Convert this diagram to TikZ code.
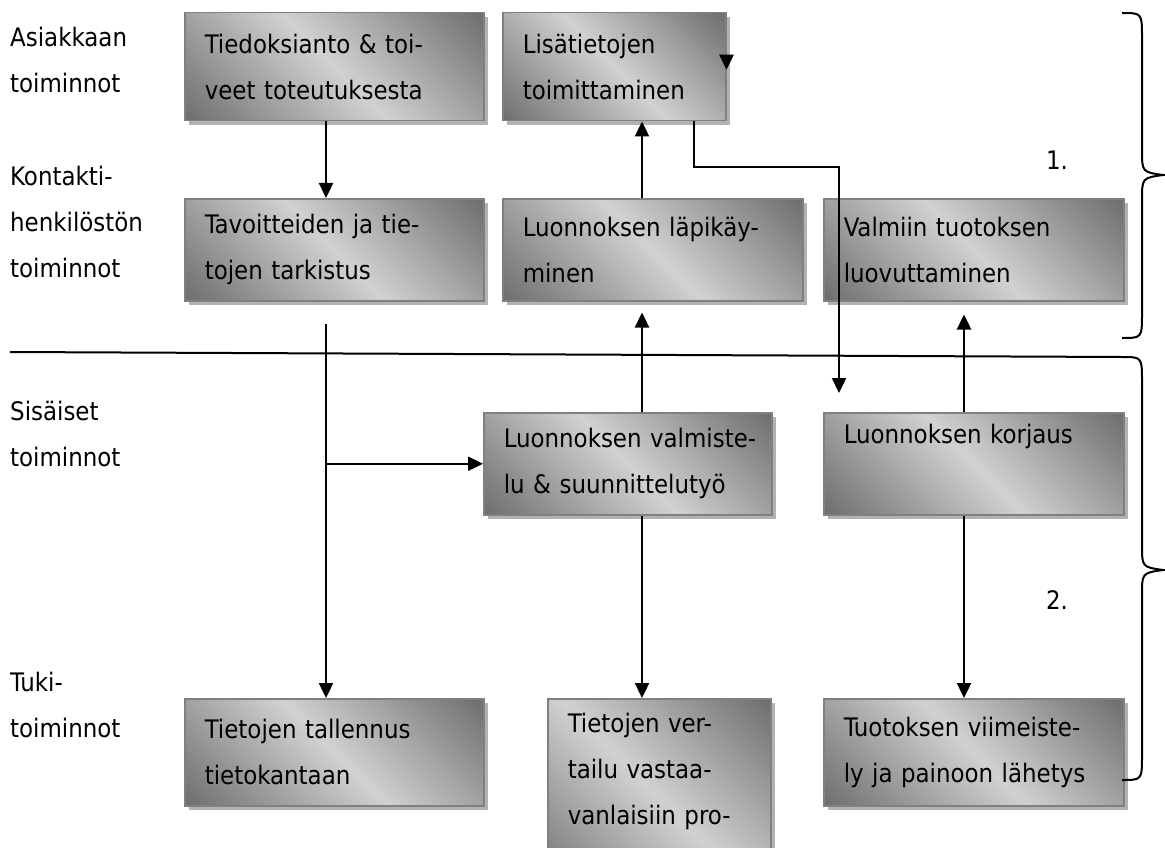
\documentclass[tikz,border=0pt]{standalone}
\usepackage{fontspec}
\setmainfont{DejaVu Sans Condensed}
\usetikzlibrary{arrows.meta,shadows}

\pgfdeclareverticalshading{boxshade}{100bp}{color(0bp)=(black!62); color(12bp)=(black!60);
  color(50bp)=(black!18); color(88bp)=(black!60); color(100bp)=(black!62)}

\tikzset{
  box/.style={draw=black!50, line width=1.5pt, shading=boxshade, shading angle=-45,
    drop shadow={shadow xshift=4pt, shadow yshift=-4pt, fill=black!30, opacity=1},
    anchor=north west, align=left, inner xsep=20pt, font=\fontsize{25.5}{46}\selectfont},
  lbl/.style={anchor=west, align=left, inner sep=0pt, font=\fontsize{25.5}{46}\selectfont},
  arr/.style={line width=2.4pt, -{Triangle[length=15pt,width=14pt]}},
  sepl/.style={line width=2pt},
}

\begin{document}
\begin{tikzpicture}[x=1pt,y=-1pt]
\useasboundingbox (0,0) rectangle (1165,848);

% rivien otsikot
\node[lbl] (l1) at (10,60) {Asiakkaan\\toiminnot};
\node[lbl] (l2) at (10,222) {Kontakti-\\henkilöstön\\toiminnot};
\node[lbl] (l3) at (10,434) {Sisäiset\\toiminnot};
\node[lbl] (l4) at (10,705) {Tuki-\\toiminnot};

% laatikot
\node[box, text width=259pt, minimum height=108pt] (a1) at (184,12) {Tiedoksianto \& toi-\\veet toteutuksesta};
\node[box, text width=183pt, minimum height=108pt] (a2) at (502,12) {Lisätietojen\\toimittaminen};
\node[box, text width=259pt, minimum height=102pt] (k1) at (184,198) {Tavoitteiden ja tie-\\tojen tarkistus};
\node[box, text width=260pt, minimum height=102pt] (k2) at (502,198) {Luonnoksen läpikäy-\\minen};
\node[box, text width=260pt, minimum height=102pt] (k3) at (823,198) {Valmiin tuotoksen\\luovuttaminen};
\node[box, text width=248pt, minimum height=102pt] (s1) at (483,412) {\mbox{Luonnoksen valmiste-}\\\mbox{lu \& suunnittelutyö}};
\node[box, text width=260pt, minimum height=102pt] (s2) at (823,412) {Luonnoksen korjaus\\\strut};
\node[box, text width=259pt, minimum height=107pt] (t1) at (184,698) {Tietojen tallennus\\tietokantaan};
\node[box, text width=183pt, minimum height=200pt] (t2) at (547,698) {Tietojen ver-\\tailu vastaa-\\vanlaisiin pro-\\\strut};
\node[box, text width=260pt, minimum height=107pt] (t3) at (823,698) {Tuotoksen viimeiste-\\ly ja painoon lähetys};

\node (n1) at (1057,160) {\fontsize{25.5}{46}\selectfont 1.};
\node (n2) at (1057,600) {\fontsize{25.5}{46}\selectfont 2.};

% sarakkeet
\coordinate (c1) at (326,0);
\coordinate (c2) at (642,0);
\coordinate (c3) at (964,0);
\coordinate (c4) at (694,0);
\coordinate (turn) at (839,167);
\coordinate (drop) at (839,393);
\coordinate (k1out) at (326,324);

% nuolet
\draw[arr] (a1.south -| c1) -- (k1.north -| c1);
\draw[arr] (k1out) -- (t1.north -| c1);
\draw[arr] (s1.west -| c1) -- (s1.west);
\draw[arr, shorten >=11pt] (s1.north -| c2) -- (k2.south -| c2);
\draw[arr] (k2.north -| c2) -- (a2.south -| c2);
\draw[arr] (a2.south -| c4) |- (turn) -- (drop);
\draw[arr] ([yshift=12pt]a2.east) -- ([yshift=-3pt]a2.east);
\draw[arr, shorten >=13pt] (s2.north -| c3) -- (k3.south -| c3);
\draw[arr] (s1.south -| c2) -- (t2.north -| c2);
\draw[arr] (s2.south -| c3) -- (t3.north -| c3);

% aaltosulkeet ja raja
\draw[sepl] (1122,13) .. controls (1142,13) .. (1142,38) -- (1142,150)
  .. controls (1142,172) .. (1163,175) .. controls (1142,178) .. (1142,200)
  -- (1142,313) .. controls (1142,338) .. (1122,338);
\draw[sepl] (10,352) -- (1122,357) .. controls (1142,357) .. (1142,382) -- (1142,545)
  .. controls (1142,567) .. (1163,570) .. controls (1142,573) .. (1142,595)
  -- (1142,755) .. controls (1142,780) .. (1122,780);
\end{tikzpicture}
\end{document}
